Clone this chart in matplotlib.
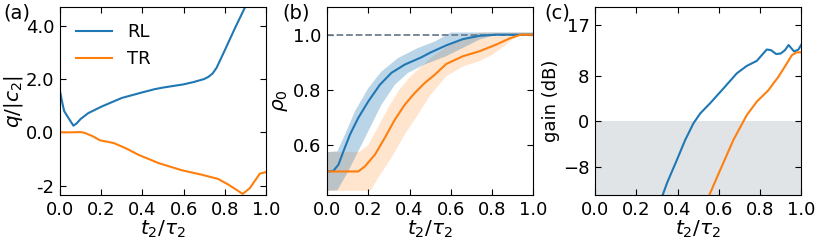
import matplotlib
matplotlib.use("Agg")
import matplotlib.pyplot as plt

# ---------------- data ----------------
# panel (a)
rl_a_x = [0, 0.01, 0.02, 0.04, 0.065, 0.08, 0.1, 0.137, 0.2, 0.3, 0.4, 0.46, 0.5, 0.6, 0.65, 0.7, 0.72, 0.74, 0.76, 0.78, 0.8, 0.85, 0.9]
rl_a_y = [1.55, 1.15, 0.8, 0.55, 0.25, 0.33, 0.5, 0.72, 0.96, 1.29, 1.5, 1.62, 1.68, 1.8, 1.89, 2.0, 2.08, 2.2, 2.42, 2.75, 3.08, 3.92, 4.72]
tr_a_x = [0, 0.05, 0.1, 0.12, 0.16, 0.194, 0.26, 0.32, 0.38, 0.477, 0.59, 0.688, 0.768, 0.817, 0.887, 0.922, 0.97, 1.0]
tr_a_y = [0, 0.0, 0.01, -0.02, -0.15, -0.3, -0.4, -0.6, -0.84, -1.15, -1.42, -1.59, -1.75, -1.96, -2.31, -2.09, -1.55, -1.49]

# panel (b)
rl_b_x = [0, 0.03, 0.055, 0.079, 0.111, 0.151, 0.2, 0.256, 0.312, 0.377, 0.457, 0.5, 0.58, 0.659, 0.739, 0.82, 1.0]
rl_b_y = [0.505, 0.507, 0.53, 0.578, 0.639, 0.699, 0.759, 0.819, 0.862, 0.892, 0.918, 0.935, 0.962, 0.984, 0.996, 1.0, 1.0]
rl_up_x = [0, 0.05, 0.087, 0.135, 0.2, 0.264, 0.345, 0.441, 0.522, 0.6, 1.0]
rl_up_y = [0.575, 0.578, 0.639, 0.723, 0.807, 0.867, 0.916, 0.952, 0.975, 1.008, 1.008]
rl_lo_x = [0, 0.05, 0.103, 0.151, 0.216, 0.264, 0.329, 0.393, 0.473, 0.578, 0.659, 0.739, 0.82, 1.0]
rl_lo_y = [0.435, 0.437, 0.506, 0.578, 0.675, 0.747, 0.819, 0.862, 0.892, 0.922, 0.952, 0.982, 1.0, 1.0]

tr_b_x = [0, 0.151, 0.184, 0.232, 0.28, 0.329, 0.377, 0.425, 0.473, 0.522, 0.578, 0.659, 0.739, 0.82, 0.884, 0.94, 1.0]
tr_b_y = [0.505, 0.505, 0.524, 0.566, 0.627, 0.693, 0.747, 0.789, 0.825, 0.855, 0.894, 0.922, 0.94, 0.964, 0.986, 1.0, 1.0]
tr_up_x = [0, 0.155, 0.2, 0.25, 0.3, 0.35, 0.4, 0.45, 0.5, 0.58, 0.66, 0.74, 1.0]
tr_up_y = [0.575, 0.575, 0.6, 0.67, 0.74, 0.8, 0.845, 0.88, 0.915, 0.955, 0.985, 1.008, 1.008]
tr_lo_x = [0, 0.21, 0.248, 0.312, 0.377, 0.441, 0.5, 0.578, 0.659, 0.739, 0.804, 0.868, 0.916, 0.95, 1.0]
tr_lo_y = [0.435, 0.435, 0.482, 0.554, 0.639, 0.711, 0.78, 0.849, 0.885, 0.904, 0.928, 0.964, 0.994, 1.0, 1.0]

# panel (c)
rl_c_x = [0.32, 0.35, 0.397, 0.437, 0.477, 0.51, 0.558, 0.615, 0.688, 0.736, 0.785, 0.809, 0.833, 0.853, 0.879, 0.901, 0.922, 0.939, 0.966, 0.987, 1.0]
rl_c_y = [-13.8, -10.8, -6.8, -3.3, -0.36, 1.4, 3.2, 5.5, 8.5, 9.8, 10.7, 11.7, 12.7, 12.6, 11.9, 12.0, 12.6, 13.5, 12.35, 12.7, 13.5]
tr_c_x = [0.545, 0.607, 0.671, 0.736, 0.785, 0.841, 0.89, 0.93, 0.955, 0.979, 1.0]
tr_c_y = [-13.8, -8.6, -3.3, 1.1, 3.5, 5.5, 7.9, 10.2, 11.7, 12.2, 12.2]

xticks = [0.0, 0.2, 0.4, 0.6, 0.8, 1.0]
xticklabels = ["0.0", "0.2", "0.4", "0.6", "0.8", "1.0"]
a_yticks = [4, 2, 0, -2]
a_yticklabels = ["4.0", "2.0", "0.0", "-2"]
b_yticks = [0.6, 0.8, 1.0]
b_yticklabels = ["0.6", "0.8", "1.0"]
c_yticks = [-8, 0, 8, 17]
c_yticklabels = ["\u22128", "0", "8", "17"]

BLUE = "#1f77b4"
ORANGE = "#ff7f0e"
FS = 13
LFS = 14.5
PFS = 14

plt.rcParams["font.family"] = ["DejaVu Sans"]
fig = plt.figure(figsize=(8.22, 2.44), dpi=100)
W, B, H = 0.2506, 0.201, 0.770
axa = fig.add_axes([0.073, B, W, H])
axb = fig.add_axes([0.398, B, W, H])
axc = fig.add_axes([0.724, B, W, H])

for ax in (axa, axb, axc):
    ax.set_xlim(0, 1)
    ax.set_xticks(xticks)
    ax.set_xticklabels(xticklabels)
    ax.tick_params(direction="in", top=True, right=True, labelsize=FS, length=4, pad=4)
    ax.set_xlabel(r"$t_2/\tau_2$", fontsize=LFS, labelpad=0)

# (a)
axa.plot(rl_a_x, rl_a_y, color=BLUE, lw=1.5, label="RL")
axa.plot(tr_a_x, tr_a_y, color=ORANGE, lw=1.5, label="TR")
axa.set_ylim(-2.35, 4.7)
axa.set_yticks(a_yticks)
axa.set_yticklabels(a_yticklabels)
axa.set_ylabel(r"$q/|c_2|$", fontsize=LFS, labelpad=1)
axa.legend(loc="upper left", frameon=False, fontsize=FS)
axa.text(-0.275, 1.02, "(a)", transform=axa.transAxes, fontsize=PFS, va="top", ha="left")

# (b)
axb.fill(tr_up_x + tr_lo_x[::-1], tr_up_y + tr_lo_y[::-1], color=ORANGE, alpha=0.2, lw=0)
axb.fill(rl_up_x + rl_lo_x[::-1], rl_up_y + rl_lo_y[::-1], color=BLUE, alpha=0.3, lw=0)
axb.axhline(1.0, color="#6f7f8f", lw=1.3, ls="--")
axb.plot(rl_b_x, rl_b_y, color=BLUE, lw=1.5)
axb.plot(tr_b_x, tr_b_y, color=ORANGE, lw=1.5)
axb.set_ylim(0.42, 1.1)
axb.set_yticks(b_yticks)
axb.set_yticklabels(b_yticklabels)
axb.set_ylabel(r"$\rho_0$", fontsize=LFS, labelpad=2)
axb.text(-0.215, 1.02, "(b)", transform=axb.transAxes, fontsize=PFS, va="top", ha="left")

# (c)
axc.set_ylim(-13, 20.2)
axc.axhspan(-13, 0, color="#e1e4e7", lw=0)
axc.plot(rl_c_x, rl_c_y, color=BLUE, lw=1.5)
axc.plot(tr_c_x, tr_c_y, color=ORANGE, lw=1.5)
axc.set_yticks(c_yticks)
axc.set_yticklabels(c_yticklabels)
axc.set_ylabel("gain (dB)", fontsize=FS, labelpad=2)
axc.text(-0.245, 1.02, "(c)", transform=axc.transAxes, fontsize=PFS, va="top", ha="left")

fig.savefig("out.png", dpi=100)
